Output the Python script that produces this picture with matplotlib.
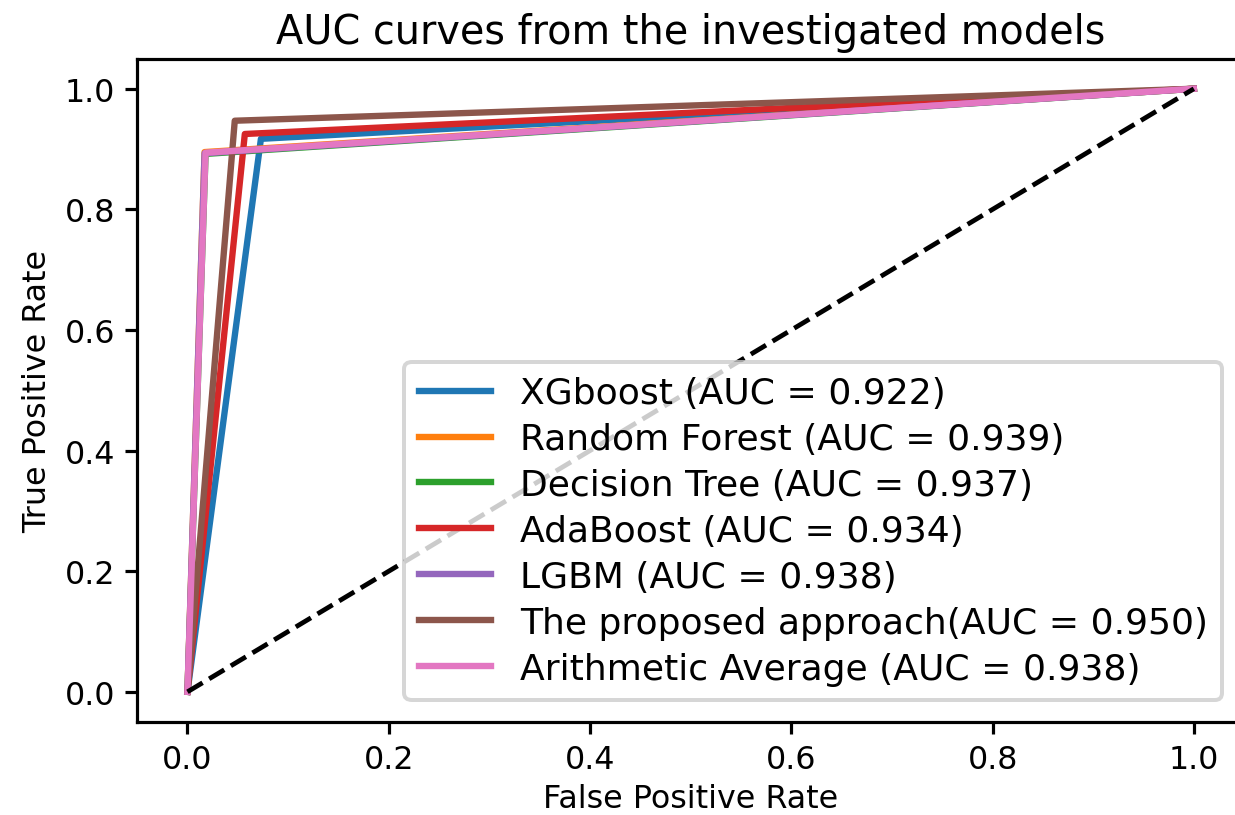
import matplotlib.pyplot as plt

models = [
    "XGboost",
    "Random Forest",
    "Decision Tree",
    "AdaBoost",
    "LGBM",
    "The proposed approach",
    "Arithmetic Average",
]
auc_values = [0.922, 0.939, 0.937, 0.934, 0.938, 0.950, 0.938]
corner_fpr = [0.073, 0.017, 0.018, 0.057, 0.017, 0.047, 0.018]
corner_tpr = [0.917, 0.895, 0.892, 0.925, 0.893, 0.947, 0.894]

fig = plt.figure(figsize=(4.32, 2.853), dpi=286)
# the source image is cropped: the right spine sits just past the edge
ax = fig.add_axes([0.111, 0.114, 0.896, 0.813])

for name, auc, fp, tp in zip(models, auc_values, corner_fpr, corner_tpr):
    sep = "" if name == "The proposed approach" else " "
    ax.plot([0, fp, 1], [0, tp, 1], lw=1.6, label=f"{name}{sep}(AUC = {auc:.3f})")

ax.plot([0, 1], [0, 1], "k--", lw=1.2)
ax.set_xlabel("False Positive Rate", fontsize=8, labelpad=2)
ax.set_ylabel("True Positive Rate", fontsize=8, labelpad=3)
ax.set_title("AUC curves from the investigated models", fontsize=10, pad=4)
ax.tick_params(labelsize=8, length=3, pad=2.5)
ax.legend(loc="lower right", fontsize=9.1, labelspacing=0.33, borderaxespad=0.6)

fig.savefig("out.png", dpi=286)
